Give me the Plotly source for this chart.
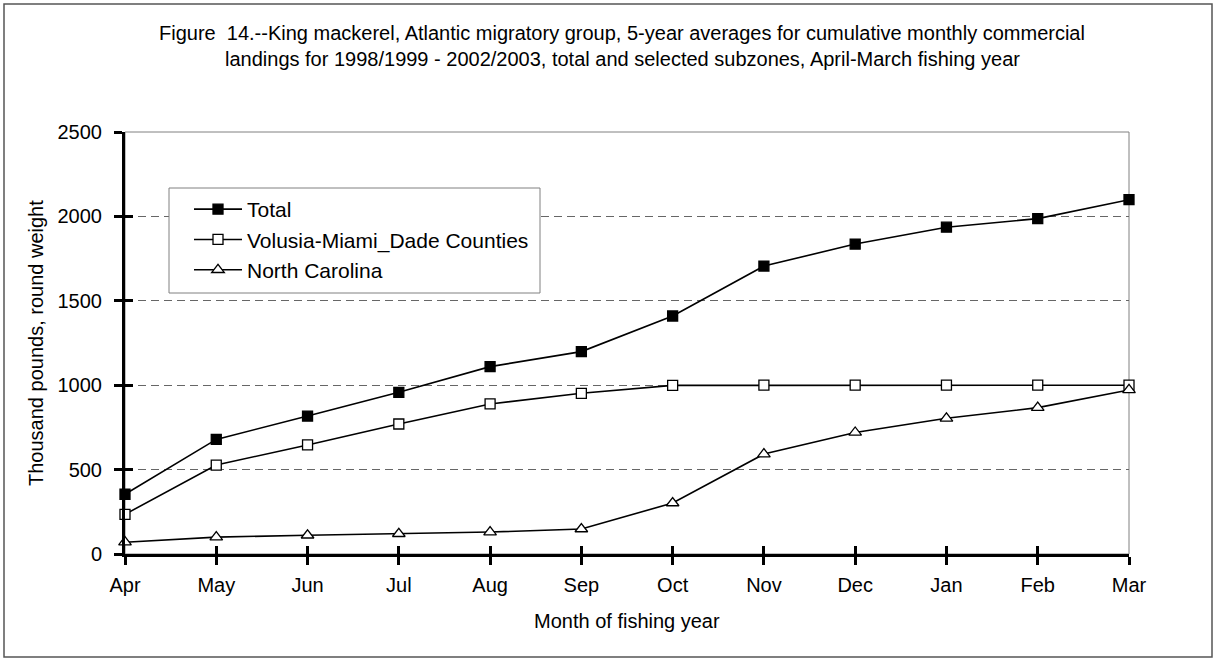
import plotly.graph_objects as go

# Cumulative monthly commercial landings (thousand pounds), 5-year averages
months = ["Apr", "May", "Jun", "Jul", "Aug", "Sep", "Oct", "Nov", "Dec", "Jan", "Feb", "Mar"]
total = [354, 679, 817, 958, 1110, 1199, 1410, 1706, 1836, 1936, 1987, 2099]
volusia_miami_dade = [235, 527, 646, 770, 889, 952, 999, 1000, 1000, 1000, 1000, 1000]
north_carolina = [70, 100, 111, 120, 130, 148, 302, 592, 720, 804, 867, 972]
y_ticks = [0, 500, 1000, 1500, 2000, 2500]

FONT = "Liberation Sans, Arial, sans-serif"
FS = 20
x_idx = list(range(len(months)))

# plot area in pixels: left, right, top, bottom
PL, PR, PT, PB = 125, 1129, 132, 554
PW, PH = PR - PL, PB - PT


def px_x(x):
    return (x - PL) / PW


def px_y(y):
    return (PB - y) / PH


fig = go.Figure()

series = [
    ("Total", total, "square", "black"),
    ("Volusia-Miami_Dade Counties", volusia_miami_dade, "square", "white"),
    ("North Carolina", north_carolina, "triangle-up", "white"),
]
for name, vals, symbol, fill in series:
    fig.add_trace(go.Scatter(
        x=x_idx, y=vals, name=name, mode="lines+markers",
        line=dict(color="black", width=1.6),
        marker=dict(symbol=symbol, size=10 if symbol == "square" else 11,
                    color=fill, line=dict(color="black", width=1.3)),
        cliponaxis=False,
    ))

fig.update_layout(
    width=1217, height=659,
    margin=dict(l=PL, r=1217 - PR, t=PT, b=659 - PB),
    paper_bgcolor="white", plot_bgcolor="white",
    font=dict(family=FONT, size=FS, color="black"),
    showlegend=True,
    legend=dict(
        x=px_x(189), y=px_y(189), xanchor="left", yanchor="top",
        bgcolor="rgba(0,0,0,0)", borderwidth=0,
        font=dict(family=FONT, size=21),
        itemwidth=48,
    ),
    xaxis=dict(
        range=[0, len(months) - 1], tickvals=x_idx, ticktext=months,
        showgrid=False, zeroline=False,
        showline=True, linecolor="black", linewidth=3,
        ticks="outside", ticklen=8, tickwidth=3, tickcolor="black",
        ticklabelstandoff=3,
    ),
    yaxis=dict(
        range=[0, 2500], tickvals=y_ticks,
        showgrid=True, gridcolor="#666666", gridwidth=1, griddash="8px,5px",
        zeroline=False,
        showline=True, linecolor="black", linewidth=3,
        ticks="outside", ticklen=8, tickwidth=3, tickcolor="black",
        ticklabelstandoff=8,
    ),
    # inner halves of the crossing tick marks
    xaxis2=dict(
        overlaying="x", anchor="y", range=[0, len(months) - 1], tickvals=x_idx,
        showticklabels=False, showgrid=False, zeroline=False,
        ticks="inside", ticklen=8, tickwidth=3, tickcolor="black",
    ),
    yaxis2=dict(
        overlaying="y", anchor="x", side="left", range=[0, 2500], tickvals=y_ticks,
        showticklabels=False, showgrid=False, zeroline=False,
        ticks="inside", ticklen=8, tickwidth=3, tickcolor="black",
    ),
)

# invisible trace so the overlay axes render
fig.add_trace(go.Scatter(x=[0], y=[0], xaxis="x2", yaxis="y2", mode="markers",
                         marker=dict(opacity=0), showlegend=False, hoverinfo="skip"))

# top and right plot-area border in gray
fig.add_shape(type="rect", xref="x domain", yref="y domain", x0=0, x1=1, y0=0, y1=1,
              line=dict(color="#808080", width=1), layer="below")

# legend frame (white fill hides the gridline behind it)
fig.add_shape(type="rect", xref="paper", yref="paper",
              x0=px_x(169), x1=px_x(540), y0=px_y(293), y1=px_y(188),
              line=dict(color="#808080", width=1), fillcolor="white", layer="above")

# outer chart border
fig.add_shape(type="rect", xref="paper", yref="paper",
              x0=px_x(4), x1=px_x(1212), y0=px_y(657), y1=px_y(4),
              line=dict(color="#555555", width=1.5), layer="below")

# title
fig.add_annotation(text="Figure\u00a0\u00a014.--King mackerel, Atlantic migratory group, 5-year averages for cumulative monthly commercial",
                   xref="paper", yref="paper", x=px_x(622), y=px_y(33),
                   xanchor="center", yanchor="middle", showarrow=False,
                   font=dict(family=FONT, size=FS))
fig.add_annotation(text="landings for 1998/1999 - 2002/2003, total and selected subzones, April-March fishing year",
                   xref="paper", yref="paper", x=px_x(622), y=px_y(59),
                   xanchor="center", yanchor="middle", showarrow=False,
                   font=dict(family=FONT, size=FS))

# axis titles
fig.add_annotation(text="Month of fishing year", xref="paper", yref="paper",
                   x=0.5, y=px_y(621), xanchor="center", yanchor="middle",
                   showarrow=False, font=dict(family=FONT, size=FS))
fig.add_annotation(text="Thousand pounds, round weight", xref="paper", yref="paper",
                   x=px_x(36), y=0.5, xanchor="center", yanchor="middle",
                   textangle=-90, showarrow=False, font=dict(family=FONT, size=FS))

fig.write_html("out.html")
